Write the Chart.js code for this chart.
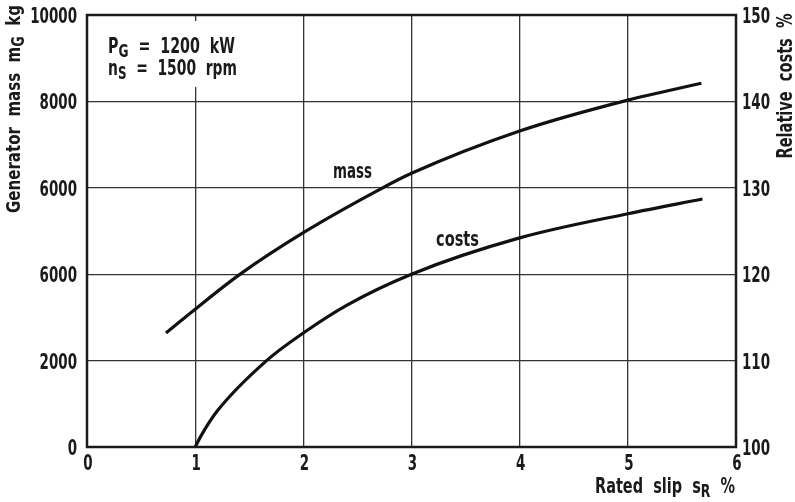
<!DOCTYPE html>
<html>
<head>
<meta charset="utf-8">
<script src="https://cdn.jsdelivr.net/npm/chart.js@4/dist/chart.umd.min.js"></script>
<style>
  html, body { margin: 0; padding: 0; background: #fff; }
  #wrap { width: 795px; height: 502px; }
</style>
</head>
<body>
<div id="wrap"><canvas id="slipChart" width="795" height="502"></canvas></div>
<script>
// generator mass vs rated slip (left axis, kg)
const slipMass = [0.73, 1.0, 1.41, 2.0, 2.69, 3.0, 4.0, 5.0, 5.68];
const massKg   = [2640, 3190, 3990, 4960, 5940, 6335, 7315, 8030, 8420];

// relative costs vs rated slip (right axis, %)
const slipCost = [1.0, 1.05, 1.2, 1.66, 2.0, 2.4, 3.0, 4.0, 5.0, 5.69];
const costPct  = [100, 101.2, 104.1, 110, 113.2, 116.4, 120.0, 124.2, 127.0, 128.7];

// tick labels as printed on the axes
const massTicks = ['0', '2000', '6000', '6000', '8000', '10000'];
const costTicks = ['100', '110', '120', '130', '140', '150'];
const slipTicks = ['0', '1', '2', '3', '4', '5', '6'];

const FONT = '"DejaVu Sans", sans-serif';
const WEIGHT = 'bold ';
const INK = '#1a1a1a';
const SQUEEZE = 0.64;   // narrow lettering for tick labels

function toPoints(xs, ys) {
  return xs.map((x, i) => ({ x: x, y: ys[i] }));
}

function setFont(ctx, size, sub) {
  ctx.font = WEIGHT + (sub ? Math.round(size * 0.85) : size) + 'px ' + FONT;
}

function partsWidth(ctx, parts, size) {
  let w = 0;
  parts.forEach(p => {
    setFont(ctx, size, p[1]);
    w += ctx.measureText(p[0]).width;
  });
  return w;
}

// text runs (second item true = subscript), squeezed to the given width
function drawRuns(ctx, parts, x, y, size, width, align) {
  const raw = partsWidth(ctx, parts, size);
  const sx = width ? width / raw : SQUEEZE;
  const w = raw * sx;
  let left = x;
  if (align === 'right') left = x - w;
  else if (align === 'center') left = x - w / 2;
  ctx.save();
  ctx.translate(left, y);
  ctx.scale(sx, 1);
  let cx = 0;
  parts.forEach(p => {
    setFont(ctx, size, p[1]);
    ctx.fillText(p[0], cx, p[1] ? 4 : 0);
    cx += ctx.measureText(p[0]).width;
  });
  ctx.restore();
}

const decorations = {
  id: 'decorations',
  afterDraw(chart) {
    const ctx = chart.ctx;
    const a = chart.chartArea;
    const sc = chart.scales;
    ctx.save();
    ctx.textBaseline = 'alphabetic';
    ctx.textAlign = 'left';

    // parameter box over the grid
    ctx.fillStyle = '#fff';
    ctx.fillRect(100, 21, 150, 66);
    ctx.fillStyle = INK;

    // tick labels
    sc.y.ticks.forEach((t, i) => {
      drawRuns(ctx, [[massTicks[i], false]], 77, sc.y.getPixelForValue(t.value) + 8, 21, 0, 'right');
    });
    sc.y2.ticks.forEach((t, i) => {
      drawRuns(ctx, [[costTicks[i], false]], 742, sc.y2.getPixelForValue(t.value) + 8, 21, 0, 'left');
    });
    sc.x.ticks.forEach((t, i) => {
      drawRuns(ctx, [[slipTicks[i], false]], sc.x.getPixelForValue(t.value) + 1, 470, 21, 0, 'center');
    });

    drawRuns(ctx, [['P', false], ['G', true], ['  =  1200  kW', false]], 108, 53, 21, 127, 'left');
    drawRuns(ctx, [['n', false], ['S', true], ['  =  1500  rpm', false]], 108, 75, 21, 129, 'left');

    // curve labels
    drawRuns(ctx, [['mass', false]], 333, 178, 21, 39, 'left');
    drawRuns(ctx, [['costs', false]], 436, 246, 21, 43, 'left');

    // axis titles
    drawRuns(ctx, [['Rated  slip  s', false], ['R', true], ['  %', false]], 735, 493, 21, 140, 'right');

    ctx.save();
    ctx.translate(20, 109);
    ctx.rotate(-Math.PI / 2);
    drawRuns(ctx, [['Generator  mass  m', false], ['G', true], ['  kg', false]], 0, 0, 20, 208, 'center');
    ctx.restore();

    ctx.save();
    ctx.translate(792, 86);
    ctx.rotate(-Math.PI / 2);
    drawRuns(ctx, [['Relative  costs  %', false]], 0, 0, 21, 145, 'center');
    ctx.restore();

    // plot frame
    ctx.strokeStyle = INK;
    ctx.lineWidth = 2.5;
    ctx.strokeRect(a.left, a.top, a.right - a.left, a.bottom - a.top);
    ctx.restore();
  }
};

new Chart(document.getElementById('slipChart'), {
  type: 'scatter',
  data: {
    datasets: [
      {
        label: 'mass',
        data: toPoints(slipMass, massKg),
        yAxisID: 'y',
        showLine: true,
        cubicInterpolationMode: 'monotone',
        borderColor: '#111',
        borderWidth: 3.2,
        pointRadius: 0
      },
      {
        label: 'costs',
        data: toPoints(slipCost, costPct),
        yAxisID: 'y2',
        showLine: true,
        cubicInterpolationMode: 'monotone',
        borderColor: '#111',
        borderWidth: 3.2,
        pointRadius: 0
      }
    ]
  },
  options: {
    responsive: false,
    animation: false,
    layout: { padding: { top: 15, left: 0, right: 0, bottom: 0 } },
    plugins: { legend: { display: false }, tooltip: { enabled: false } },
    scales: {
      x: {
        type: 'linear',
        min: 0, max: 6,
        ticks: { stepSize: 1, display: false },
        grid: { color: '#333', lineWidth: 1.3, drawTicks: false },
        border: { display: false },
        afterFit(s) { s.height = 55; }
      },
      y: {
        position: 'left',
        min: 0, max: 10000,
        ticks: { stepSize: 2000, display: false },
        grid: { color: '#333', lineWidth: 1.3, drawTicks: false },
        border: { display: false },
        afterFit(s) { s.width = 87; }
      },
      y2: {
        position: 'right',
        min: 100, max: 150,
        ticks: { stepSize: 10, display: false },
        grid: { display: false, drawTicks: false },
        border: { display: false },
        afterFit(s) { s.width = 59; }
      }
    }
  },
  plugins: [decorations]
});
</script>
</body>
</html>
